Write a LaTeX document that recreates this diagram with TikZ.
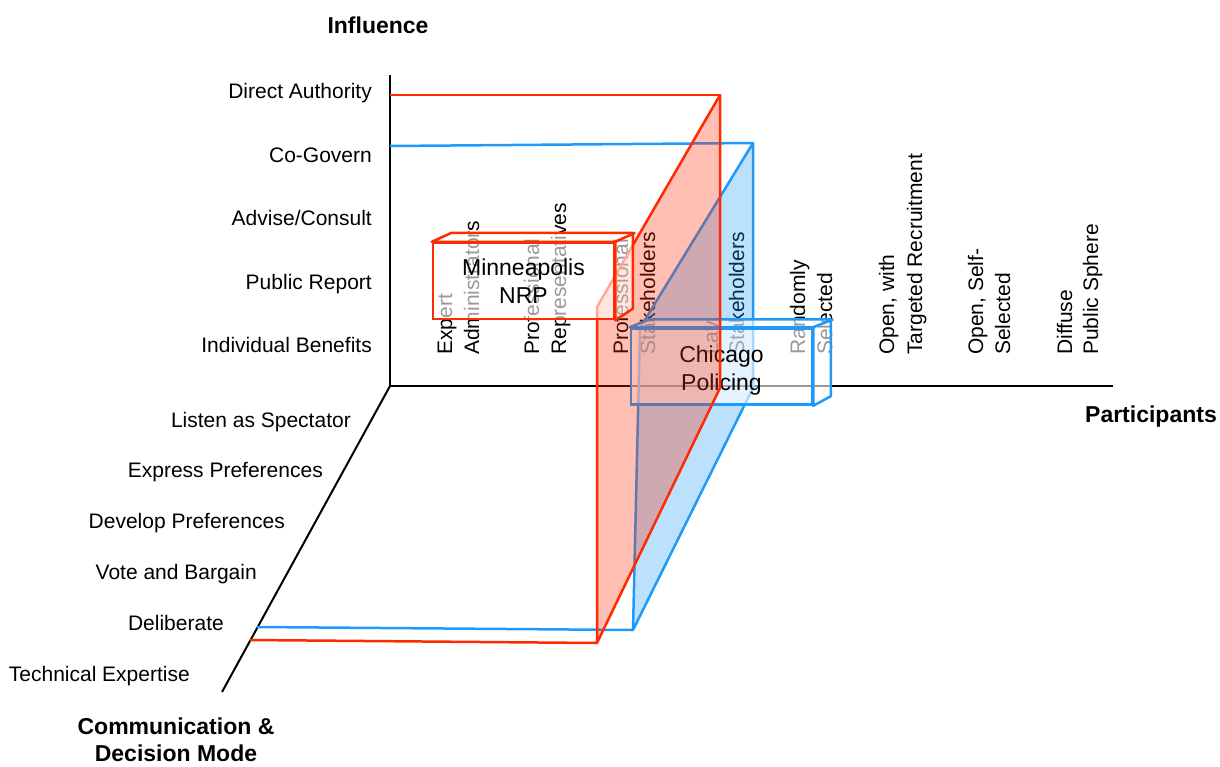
\documentclass[tikz,border=0pt]{standalone}
\usepackage{fontspec}
\setmainfont{Liberation Sans}
\usepackage{tikz}
\usetikzlibrary{positioning}
\definecolor{nrpred}{HTML}{FF2A00}
\definecolor{cpblue}{HTML}{1E9BFA}

\begin{document}
\begin{tikzpicture}[x=1pt,y=-1pt,
  lbl/.style={anchor=base east,inner sep=0pt,font=\fontsize{21}{25}\selectfont},
  collbl/.style={rotate=90,anchor=base west,inner sep=0pt,font=\fontsize{21}{25}\selectfont},
  axtitle/.style={align=center,inner sep=0pt,font=\fontsize{23}{27}\selectfont\bfseries},
  nrpline/.style={nrpred,line width=2.5pt,line join=round},
  cpline/.style={cpblue,line width=2.5pt,line join=round},
  frontbox/.style={fill=white,fill opacity=0.6,line width=2.5pt,minimum width=181pt,minimum height=76pt,inner sep=0pt},
  boxlbl/.style={align=center,inner sep=0pt,font=\fontsize{23}{28.5}\selectfont}]
\useasboundingbox (0,0) rectangle (1220,766);
% axes
\coordinate (o) at (390,386);
\coordinate (itop) at (390,75);
\coordinate (pend) at (1113,386);
\coordinate (cend) at (222,692);
\draw[line width=2pt] (itop) -- (o) -- (pend);
\draw[line width=2pt] (o) -- (cend);
% axis titles
\node[axtitle] (influence) at (378,25) {Influence};
\node[axtitle,anchor=base east] (participants) at (1217,422) {Participants};
\node[axtitle] (commmode) at (176,740) {Communication \&\\Decision Mode};
% influence levels
\node[lbl] (direct) at (372,98) {Direct Authority};
\node[lbl] (cogov) at (372,162) {Co-Govern};
\node[lbl] (advise) at (372,225) {Advise/Consult};
\node[lbl] (report) at (372,289) {Public Report};
\node[lbl] (benefit) at (372,352) {Individual Benefits};
% communication and decision modes
\node[lbl] (listen) at (351,427) {Listen as Spectator};
\node[lbl] (express) at (323,477) {Express Preferences};
\node[lbl] (develop) at (285,528) {Develop Preferences};
\node[lbl] (vote) at (257,579) {Vote and Bargain};
\node[lbl] (delib) at (224,630) {Deliberate};
\node[lbl] (techexp) at (190,681) {Technical Expertise};
% participant selection
\node[collbl] (expA) at (452,355) {Expert};
\node[collbl] (expB) at (479,355) {Administrators};
\node[collbl] (profrepA) at (539,355) {Professional};
\node[collbl] (profrepB) at (566,355) {Representatives};
\node[collbl] (profstkA) at (628,355) {Professional};
\node[collbl] (profstkB) at (655,355) {Stakeholders};
\node[collbl] (layA) at (718,355) {Lay};
\node[collbl] (layB) at (744,355) {Stakeholders};
\node[collbl] (randA) at (805,355) {Randomly};
\node[collbl] (randB) at (832,355) {Selected};
\node[collbl] (targA) at (894,355) {Open, with};
\node[collbl] (targB) at (922,355) {Targeted Recruitment};
\node[collbl] (selfA) at (983,355) {Open, Self-};
\node[collbl] (selfB) at (1010,355) {Selected};
\node[collbl] (diffA) at (1072,355) {Diffuse};
\node[collbl] (diffB) at (1098,355) {Public Sphere};
% Chicago policing plane
\coordinate (cp1) at (753,143);
\coordinate (cp2) at (753,388);
\coordinate (cp3) at (633,630);
\coordinate (cp4) at (640,328);
\fill[cpblue,opacity=0.3] (cp1) -- (cp2) -- (cp3) -- (cp4) -- cycle;
\draw[cpline] (cp4) -- (cp1) -- (cp2) -- (cp3) -- cycle;
\draw[cpline] (390,146) -- (cp1);
\draw[cpline] (cp3) -- (257,627);
% Chicago policing box
\node[frontbox,draw=cpblue] (cp) at (721.5,366.5) {};
\filldraw[cpline,fill=white,fill opacity=0.6] (cp.north west) -- ++(20,-8) -- ++(181,0) -- ++(0,77) -- (cp.south east) -- (cp.north east) -- cycle;
\draw[cpline] (cp.north east) -- ++(20,-8);
\node[boxlbl] (cplbl) at ([yshift=-4pt]cp.center) {Chicago\\Policing};
% Minneapolis NRP plane
\coordinate (nrp1) at (720,95);
\coordinate (nrp2) at (720,388);
\coordinate (nrp3) at (597,643);
\coordinate (nrp4) at (597,307);
\fill[nrpred,opacity=0.3] (nrp1) -- (nrp2) -- (nrp3) -- (nrp4) -- cycle;
\draw[nrpline] (nrp4) -- (nrp1) -- (nrp2) -- (nrp3) -- cycle;
\draw[nrpline] (390,95) -- (nrp1);
\draw[nrpline] (nrp3) -- (250,640);
% Minneapolis NRP box
\node[frontbox,draw=nrpred] (nrp) at (523.5,281) {};
\filldraw[nrpline,fill=white,fill opacity=0.6] (nrp.north west) -- ++(20,-9) -- ++(181,0) -- ++(0,76) -- (nrp.south east) -- (nrp.north east) -- cycle;
\draw[nrpline] (nrp.north east) -- ++(20,-9);
\node[boxlbl] (nrplbl) at (nrp.center) {Minneapolis\\NRP};
\end{tikzpicture}
\end{document}
